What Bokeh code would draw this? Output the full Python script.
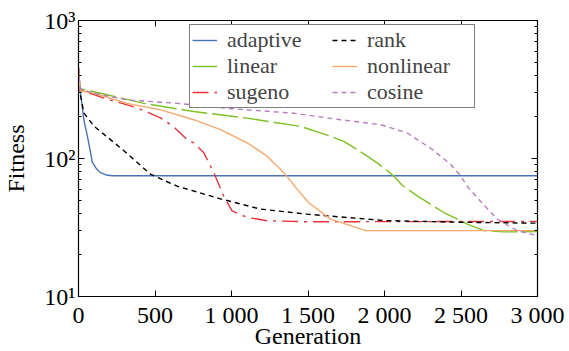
from bokeh.plotting import figure
from bokeh.models import LinearAxis, LogAxis, Range1d, Legend, LegendItem, FixedTicker
from bokeh.embed import file_html
from bokeh.resources import INLINE

gen_adaptive = [0, 10, 20, 35, 50, 67, 90, 115, 144, 180, 220, 3000]
fit_adaptive = [450, 320, 260, 191, 160, 130, 94, 85, 79, 76, 75, 75]

gen_rank = [0, 10, 35, 100, 209, 300, 470, 645, 928, 1190, 1494, 2000, 2500, 3000]
fit_rank = [450, 300, 214, 172, 137, 113, 77, 63, 51, 43, 39.5, 35.5, 34.5, 34]

gen_linear = [0, 10, 144, 427, 753, 1102, 1451, 1647, 1734, 1821, 1887, 1952, 2059, 2115, 2214, 2388, 2541, 2650, 2778, 3000]
fit_linear = [450, 320, 297, 251, 219, 196, 171, 145, 133, 116, 104, 93, 75, 64, 53.6, 40.6, 33.5, 30, 29.4, 29.5]

gen_nonlinear = [0, 10, 100, 318, 536, 753, 928, 1102, 1233, 1342, 1429, 1503, 1647, 1778, 1876, 3000]
fit_nonlinear = [450, 310, 297, 251, 225, 191, 162, 130, 104, 79, 60, 48, 36.4, 32.6, 30, 30]

gen_sugeno = [0, 10, 100, 209, 383, 536, 622, 711, 753, 819, 884, 950, 1004, 1102, 1233, 1494, 3000]
fit_sugeno = [450, 315, 290, 265, 233, 197, 170, 137, 130, 110, 79, 53, 41.8, 37.4, 35.4, 34.8, 35]

gen_cosine = [0, 10, 100, 318, 645, 972, 1406, 1712, 1974, 2148, 2300, 2431, 2497, 2540, 2627, 2736, 2867, 3000]
fit_cosine = [450, 320, 297, 266, 251, 231, 213, 191, 176, 153, 119, 91, 75, 63, 49, 36.4, 30, 27.6]

x_ticks = [0, 500, 1000, 1500, 2000, 2500, 3000]
x_tick_labels = ["0", "500", "1 000", "1 500", "2 000", "2 500", "3 000"]
y_ticks = [10, 100, 1000]
y_tick_labels = ["10¹", "10²", "10³"]
y_minor = [20, 30, 40, 50, 60, 70, 80, 90, 200, 300, 400, 500, 600, 700, 800, 900]

FONT = "Liberation Serif"

p = figure(width=569, height=351, y_axis_type="log", output_backend="svg",
           toolbar_location=None, x_range=Range1d(0, 3000), y_range=Range1d(10, 1000),
           min_border_left=78, min_border_right=32, min_border_top=20, min_border_bottom=53)
p.background_fill_color = "white"
p.border_fill_color = "white"
p.outline_line_color = "black"
p.outline_line_width = 1.2
p.xgrid.visible = False
p.ygrid.visible = False

r_adaptive = p.line(gen_adaptive, fit_adaptive, line_color="#4a72b8", line_width=1.4)
r_linear = p.line(gen_linear, fit_linear, line_color="#7cc225", line_width=1.4, line_dash="26 5")
r_sugeno = p.line(gen_sugeno, fit_sugeno, line_color="#e8333b", line_width=1.4, line_dash="16 6 3 6")
r_rank = p.line(gen_rank, fit_rank, line_color="black", line_width=1.4, line_dash="5 4")
r_nonlinear = p.line(gen_nonlinear, fit_nonlinear, line_color="#f7a86c", line_width=1.4)
r_cosine = p.line(gen_cosine, fit_cosine, line_color="#b77cc1", line_width=1.4, line_dash="5 4")

xax = p.xaxis[0]
yax = p.yaxis[0]
for ax in [xax, yax]:
    ax.major_tick_in = 6
    ax.major_tick_out = 0
    ax.minor_tick_in = 3
    ax.minor_tick_out = 0
    ax.axis_line_color = "black"
    ax.major_label_text_font = FONT
    ax.major_label_text_font_size = "24px"
    ax.major_label_text_color = "black"
    ax.axis_label_text_font = FONT
    ax.axis_label_text_font_size = "24px"
    ax.axis_label_text_font_style = "normal"
    ax.axis_label_text_color = "black"

xax.ticker = FixedTicker(ticks=x_ticks)
xax.major_label_overrides = {t: l for t, l in zip(x_ticks, x_tick_labels)}
xax.axis_label = "Generation"
xax.axis_label_standoff = -8
xax.major_label_standoff = 5
xax.minor_tick_in = 0

yax.ticker = FixedTicker(ticks=y_ticks, minor_ticks=y_minor)
yax.major_label_overrides = {t: l for t, l in zip(y_ticks, y_tick_labels)}
yax.axis_label = "Fitness"
yax.axis_label_standoff = 12
yax.major_label_standoff = 3

top = LinearAxis(ticker=FixedTicker(ticks=x_ticks), major_tick_in=6, major_tick_out=0,
                 minor_tick_in=0, minor_tick_out=0, major_label_standoff=0,
                 major_label_overrides={t: "" for t in x_ticks})
p.add_layout(top, "above")
right = LogAxis(ticker=FixedTicker(ticks=y_ticks, minor_ticks=y_minor),
                major_tick_in=6, major_tick_out=0, minor_tick_in=3, minor_tick_out=0,
                major_label_standoff=0, major_label_overrides={t: "" for t in y_ticks})
p.add_layout(right, "right")

legend = Legend(items=[
    LegendItem(label="adaptive", renderers=[r_adaptive]),
    LegendItem(label="linear", renderers=[r_linear]),
    LegendItem(label="sugeno", renderers=[r_sugeno]),
    LegendItem(label="rank", renderers=[r_rank]),
    LegendItem(label="nonlinear", renderers=[r_nonlinear]),
    LegendItem(label="cosine", renderers=[r_cosine]),
], nrows=3, location=(111, 188))
legend.label_text_font = FONT
legend.label_text_font_size = "22px"
legend.label_height = 20
legend.glyph_height = 20
legend.glyph_width = 25
legend.label_width = 105
legend.spacing = 0
legend.padding = 2
legend.margin = 0
legend.label_standoff = 10
legend.border_line_color = "black"
legend.border_line_width = 1.2
legend.background_fill_alpha = 1
p.add_layout(legend, "center")

open("out.html", "w").write(file_html(p, INLINE))
